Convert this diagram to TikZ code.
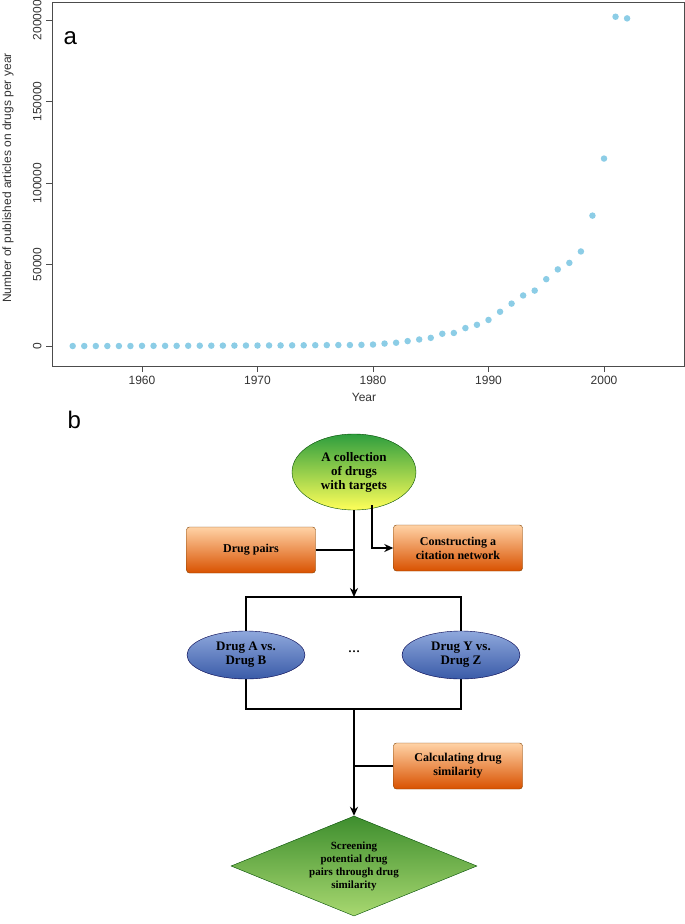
\documentclass[tikz,border=0pt]{standalone}
\usepackage{fontspec}
\setmainfont{Liberation Serif}
\newfontfamily\plotfont{Liberation Sans}
\usetikzlibrary{shapes.geometric,arrows.meta}
\begin{document}
\begin{tikzpicture}[x=1pt,y=-1pt,
 obox/.style={draw=orange!50!black,rounded corners=3pt,top color=orange!35!white,bottom color=orange!75!red!85!black,minimum width=129pt,minimum height=46pt,align=center,font=\bfseries\fontsize{12}{14}\selectfont},
 bell/.style={ellipse,draw=blue!30!black,top color=bluetop,bottom color=bluebot,minimum width=118pt,minimum height=48pt,align=center,font=\bfseries\fontsize{13}{14}\selectfont},
 ln/.style={line width=1.8pt},
 arr/.style={line width=1.8pt,-{Stealth[length=9pt,width=8pt]}},
 tk/.style={font=\plotfont\fontsize{12}{14}\selectfont,text=gray!40!black}]
\definecolor{dotc}{HTML}{8CCDE6}
\definecolor{bluetop}{HTML}{8FA8DC}
\definecolor{bluebot}{HTML}{3A5BA8}
\definecolor{gtop}{HTML}{2E9E3E}
\definecolor{dtop}{HTML}{3E8E2E}
\definecolor{dbot}{HTML}{A8D870}
\useasboundingbox (0,0) rectangle (685,924);
% plot a
\draw[gray!60!black] (52,2) rectangle (684,366);
\foreach \v/\t in {0/0,50/50000,100/100000,150/150000,200/200000}{
 \coordinate (yt\v) at (52,{346-\v/50*81.5});
 \draw[gray!60!black] (yt\v) -- ++(-6,0);
 \node[tk,rotate=90,anchor=south] at ([xshift=-7pt]yt\v) {\t};}
\foreach \yr in {1960,1970,1980,1990,2000}{
 \coordinate (xt\yr) at ({142+(\yr-1960)*11.55},366);
 \draw[gray!60!black] (xt\yr) -- ++(0,6);
 \node[tk,anchor=north] at ([yshift=-7pt]xt\yr) {\yr};}
\node[tk] at (364,397) {Year};
\node[tk,rotate=90] at (8,178) {Number of published articles on drugs per year};
\foreach \yr/\v in {1954/0,1955/0,1956/0,1957/0,1958/0,1959/0,1960/0.1,1961/0.1,1962/0.1,1963/0.1,1964/0.15,1965/0.2,1966/0.2,1967/0.25,1968/0.25,1969/0.3,1970/0.3,1971/0.35,1972/0.35,1973/0.4,1974/0.45,1975/0.5,1976/0.55,1977/0.6,1978/0.6,1979/0.7,1980/0.9,1981/1.5,1982/2,1983/3,1984/4,1985/5,1986/7.5,1987/8,1988/11,1989/13,1990/16,1991/21,1992/26,1993/31,1994/34,1995/41,1996/47,1997/51,1998/58,1999/80,2000/115,2001/202,2002/201}
 \node[circle,fill=dotc,inner sep=0,minimum size=6.5pt] at ({142+(\yr-1960)*11.55},{346-\v/50*81.5}) {};
\node[font=\plotfont\fontsize{24}{26}\selectfont,anchor=west] (la) at (60,38) {a};
\node[font=\plotfont\fontsize{24}{26}\selectfont,anchor=west] (lb) at (64,420) {b};
% flowchart b
\node[ellipse,draw=green!30!black,top color=gtop,bottom color=yellow!65,minimum width=124pt,minimum height=76pt,align=center,inner sep=0,font=\bfseries\fontsize{13}{14}\selectfont] (top) at (354,472) {A collection\\of drugs\\with targets};
\node[obox] (pairs) at (251,550) {Drug pairs};
\node[obox] (cite) at (458,548) {Constructing a\\citation network};
\coordinate (rt) at (354,597);
\draw[ln] (246,597) rectangle (461,709);
\node[bell] (ab) at (246,655) {Drug A vs.\\Drug B};
\node[bell] (yz) at (461,655) {Drug Y vs.\\Drug Z};
\node[font=\bfseries\large] (dots) at (354,652) {\dots};
\node[obox] (calc) at (458,766) {Calculating drug\\similarity};
\node[diamond,aspect=2.46,top color=dtop,bottom color=dbot,draw=green!30!black,inner sep=0,minimum width=246pt,minimum height=100pt,align=center,font=\bfseries\fontsize{11}{13}\selectfont] (dia) at (354,866) {Screening\\potential drug\\pairs through drug\\similarity};
\draw[arr] (top.south) -- (rt);
\draw[ln] (pairs.east) -- (pairs.east -| top.south);
\draw[arr] (372,505) |- (cite.west);
\coordinate (rb) at (354,709);
\draw[arr] (rb) -- (dia.north);
\draw[ln] (calc.west) -- (calc.west -| rb);
\end{tikzpicture}
\end{document}
